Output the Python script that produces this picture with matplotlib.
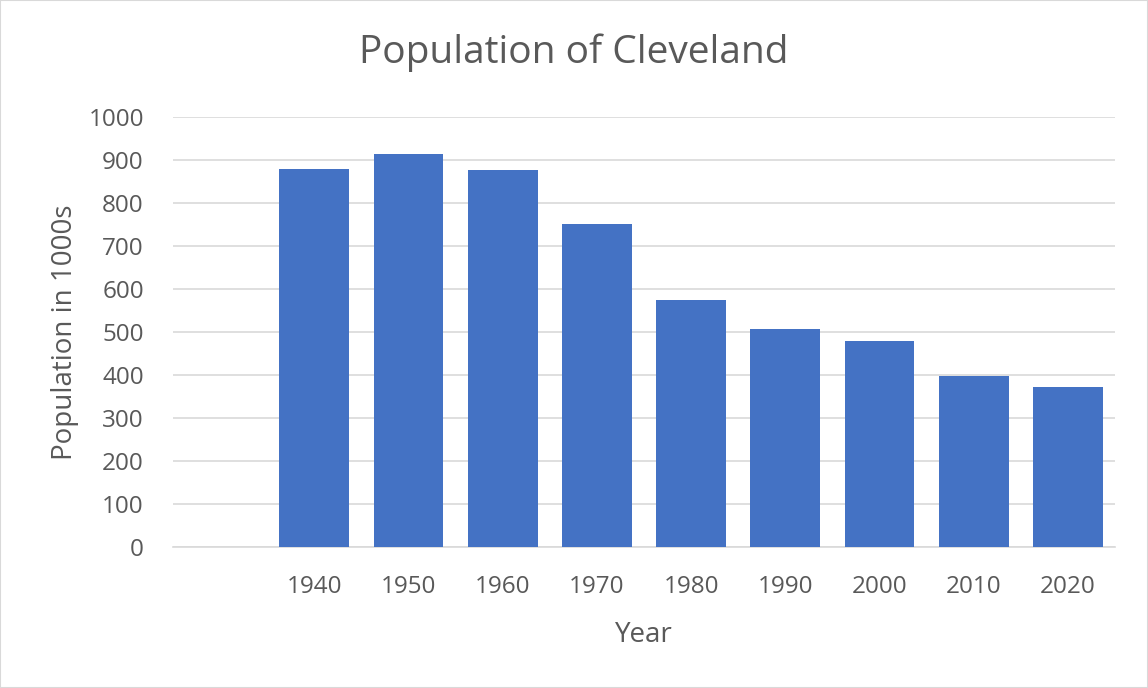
import numpy as np
import matplotlib.pyplot as plt

plt.rcParams['font.family'] = ['Open Sans', 'DejaVu Sans']

# first slot of the category axis is empty in the original chart
years = ["", "1940", "1950", "1960", "1970", "1980", "1990", "2000", "2010", "2020"]
population = [np.nan, 878, 915, 876, 751, 574, 506, 478, 397, 373]

text_col = "#595959"
bar_col = "#4472C4"
grid_col = "#D9D9D9"

fig = plt.figure(figsize=(11.48, 6.88), dpi=100)
ax = fig.add_axes([0.1507, 0.205, 0.8206, 0.625])

x = np.arange(len(years))
ax.bar(x, population, width=0.74, color=bar_col, zorder=3)

ax.set_xlim(-0.5, len(years) - 0.5)
ax.set_ylim(0, 1000)
ax.set_yticks(np.arange(0, 1001, 100))
ax.set_xticks(x)
ax.set_xticklabels(years)

ax.grid(axis="y", color=grid_col, linewidth=1.2, zorder=0)
for s in ["top", "right", "left"]:
    ax.spines[s].set_visible(False)
ax.spines["bottom"].set_color(grid_col)
ax.spines["bottom"].set_linewidth(1.2)
ax.tick_params(axis="both", length=0, labelsize=17.5, colors=text_col)
ax.tick_params(axis="x", pad=20)
ax.tick_params(axis="y", pad=21)

ax.set_xlabel("Year", fontsize=20, color=text_col, labelpad=16)
ax.set_ylabel("Population in 1000s", fontsize=20, color=text_col, labelpad=7)
fig.suptitle("Population of Cleveland", fontsize=28, color=text_col, y=0.952)

fig.patches.append(plt.Rectangle((0, 0), 1, 1, transform=fig.transFigure,
                                 fill=False, edgecolor="#D9D9D9", linewidth=1.5))

plt.savefig("out.png", dpi=100)
